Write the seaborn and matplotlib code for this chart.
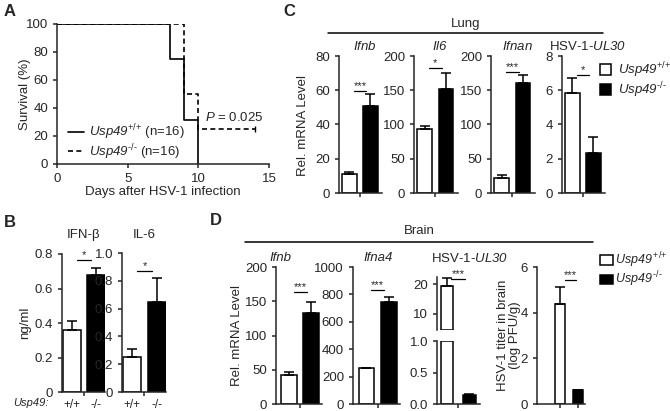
import numpy as np
import pandas as pd
import matplotlib
matplotlib.use('Agg')
import matplotlib.pyplot as plt
from matplotlib.lines import Line2D
from matplotlib.patches import Patch
import seaborn as sns

# ---- data ----
days_wt = [0, 8, 9, 10]
surv_wt = [100, 75, 31.25, 0]
days_ko = [0, 9, 10, 14]
surv_ko = [100, 50, 25, 25]

genotypes = ['+/+', '-/-']

b_ifnb, b_ifnb_err = [0.36, 0.68], [0.05, 0.04]
b_il6, b_il6_err = [0.25, 0.65], [0.06, 0.17]

c_ifnb, c_ifnb_err = [11, 51], [1.3, 7]
c_il6, c_il6_err = [93, 152], [5, 23]
c_ifnan, c_ifnan_err = [22, 161], [4, 11]
c_ul30, c_ul30_err = [5.85, 2.35], [0.85, 0.9]

d_ifnb, d_ifnb_err = [42, 133], [5, 16]
d_ifna4, d_ifna4_err = [263, 745], [0, 36]
d_ul30, d_ul30_err = [19.5, 0.15], [2.8, 0.01]
d_titer, d_titer_err = [4.38, 0.61], [0.74, 0]

W, H = 670, 411

sns.set_style('ticks')
plt.rcParams['font.family'] = ['Liberation Sans', 'DejaVu Sans']
plt.rcParams['mathtext.fontset'] = 'custom'
plt.rcParams['mathtext.rm'] = 'Liberation Sans'
plt.rcParams['mathtext.it'] = 'Liberation Sans:italic'
# \mathsf used for italic gene names so digits stay italic too
plt.rcParams['mathtext.sf'] = 'Liberation Sans:italic'
plt.rcParams['axes.linewidth'] = 1.1
plt.rcParams['xtick.major.size'] = 3
plt.rcParams['ytick.major.size'] = 3
plt.rcParams['xtick.major.width'] = 1.1
plt.rcParams['ytick.major.width'] = 1.1
plt.rcParams['xtick.labelsize'] = 9.5
plt.rcParams['ytick.labelsize'] = 9.5

fig = plt.figure(figsize=(W / 100, H / 100), dpi=100)


def add_ax(x0, y0, x1, y1):
    return fig.add_axes([x0 / W, 1 - y1 / H, (x1 - x0) / W, (y1 - y0) / H])


def ftext(x, y, s, **kw):
    fig.text(x / W, 1 - y / H, s, **kw)


def fline(x0, x1, y):
    fig.add_artist(Line2D([x0 / W, x1 / W], [1 - y / H, 1 - y / H], color='k', lw=1.1))


def bars(ax, vals, errs, width=0.68, xlim=(-0.5, 1.55), ticks='mid'):
    sns.barplot(x=genotypes, y=vals, hue=genotypes, palette=['white', 'black'],
                edgecolor='black', linewidth=1.1, width=width, errorbar=None,
                legend=False, ax=ax)
    ax.errorbar([0, 1], vals, yerr=[[0, 0], errs], fmt='none', ecolor='black',
                elinewidth=1.1, capsize=3.5, capthick=1.1)
    ax.set_xlim(*xlim)
    if ticks == 'mid':
        ax.set_xticks([0.5])
    else:
        ax.set_xticks([0, 1])
    ax.set_xticklabels([])
    ax.set_xlabel('')
    ax.set_ylabel('')
    sns.despine(ax=ax)


def sig(ax, y, s, x0=0.2, x1=0.8):
    ax.plot([x0, x1], [y, y], color='k', lw=0.9, clip_on=False)
    ax.text((x0 + x1) / 2, y, s, ha='center', va='bottom', fontsize=8, clip_on=False)


wt_lab = r'$\mathsf{Usp49}^{\text{+/+}}$'
ko_lab = r'$\mathsf{Usp49}^{\text{-/-}}$'

# ---- panel A ----
axA = add_ax(57, 24, 269, 164)
sns.lineplot(x=days_wt, y=surv_wt, drawstyle='steps-post', color='k', lw=1.2,
             estimator=None, ax=axA, label=wt_lab + ' (n=16)')
sns.lineplot(x=days_ko, y=surv_ko, drawstyle='steps-post', color='k', lw=1.2,
             dashes=(3, 2), estimator=None, ax=axA, label=ko_lab + ' (n=16)')
axA.plot(days_ko[-1:], surv_ko[-1:], marker='|', color='k', ms=4)
axA.set_xlim(0, 15)
axA.set_ylim(0, 100)
axA.set_xticks([0, 5, 10, 15])
axA.set_yticks([0, 20, 40, 60, 80, 100])
axA.set_xlabel('')
axA.set_ylabel('')
sns.despine(ax=axA)
axA.legend(loc='upper left', bbox_to_anchor=(0.02, (164 - 116) / 140), frameon=False,
           fontsize=9.5, handlelength=1.2, handletextpad=0.4, labelspacing=0.0,
           borderpad=0)
axA.text(10.5, 33, r'$P$ = 0.025', fontsize=9.5, va='center')
ftext(25, 94, 'Survival (%)', rotation=90, ha='center', va='center', fontsize=9.5)
ftext(163, 192, 'Days after HSV-1 infection', ha='center', va='center', fontsize=9.5)
ftext(4, 12, 'A', fontsize=12, weight='bold', va='center')

# ---- panel B ----
axB1 = add_ax(62, 254, 105, 392)
bars(axB1, b_ifnb, b_ifnb_err, width=0.72, xlim=(-0.42, 1.38))
axB1.set_ylim(0, 0.8)
axB1.set_yticks([0, 0.2, 0.4, 0.6, 0.8])
axB1.set_yticklabels(['0', '0.2', '0.4', '0.6', '0.8'])
sig(axB1, 0.765, '*')
axB2 = add_ax(122, 253, 166, 392)
bars(axB2, b_il6, b_il6_err, width=0.72, xlim=(-0.42, 1.38))
axB2.set_ylim(0, 1.0)
axB2.set_yticks([0, 0.2, 0.4, 0.6, 0.8, 1.0])
axB2.set_yticklabels(['0', '0.2', '0.4', '0.6', '0.8', '1.0'])
sig(axB2, 0.87, '*')
for ax in (axB1, axB2):
    ax.set_xticks([0, 1], minor=False)
    ax.set_xticklabels(genotypes, fontsize=8.5)
    ax.tick_params(axis='x', which='major', length=0, pad=5)
    ax.set_xticks([0.5], minor=True)
    ax.tick_params(axis='x', which='minor', length=3, width=1.1)
ftext(83, 235, 'IFN-β', ha='center', va='center', fontsize=9.5)
ftext(144, 235, 'IL-6', ha='center', va='center', fontsize=9.5)
ftext(25, 323, 'ng/ml', rotation=90, ha='center', va='center', fontsize=9.5)
ftext(13, 403, 'Usp49:', fontsize=8, va='center', style='italic')
ftext(4, 222, 'B', fontsize=12, weight='bold', va='center')

# ---- panel C ----
c_boxes = [(339, 382), (414, 458), (491, 535), (562, 605)]
c_data = [(c_ifnb, c_ifnb_err, 80, [0, 20, 40, 60, 80], 59.6, '***'),
          (c_il6, c_il6_err, 200, [0, 50, 100, 150, 200], 183, '*'),
          (c_ifnan, c_ifnan_err, 200, [0, 50, 100, 150, 200], 177, '***'),
          (c_ul30, c_ul30_err, 8, [0, 2, 4, 6, 8], 6.9, '*')]
c_titles = [r'$\mathsf{Ifnb}$', r'$\mathsf{Il6}$', r'$\mathsf{Ifnan}$',
            r'HSV-1-$\mathsf{UL30}$']
for (x0, x1), (v, e, top, yt, sy, ss), t in zip(c_boxes, c_data, c_titles):
    ax = add_ax(x0, 56, x1, 193)
    bars(ax, v, e)
    ax.set_ylim(0, top)
    ax.set_yticks(yt)
    sig(ax, sy, ss)
    ftext((x0 + x1) / 2 + 4, 46, t, ha='center', va='center', fontsize=9.5)
ftext(303, 125, 'Rel. mRNA Level', rotation=90, ha='center', va='center', fontsize=9.5)
ftext(466, 24, 'Lung', ha='center', va='center', fontsize=9.5)
fline(328, 603, 33)
ftext(283, 12, 'C', fontsize=12, weight='bold', va='center')
fig.legend(handles=[Patch(facecolor='white', edgecolor='k', lw=1.1),
                    Patch(facecolor='black', edgecolor='k', lw=1.1)],
           labels=[wt_lab, ko_lab],
           loc='upper left', bbox_to_anchor=(593 / W, 1 - 54 / H), frameon=False,
           fontsize=9.5, handlelength=0.9, handleheight=0.9, handletextpad=0.5,
           labelspacing=0.0, borderpad=0)

# ---- panel D ----
axD1 = add_ax(276, 267, 322, 404)
bars(axD1, d_ifnb, d_ifnb_err, width=0.7, xlim=(-0.6, 1.5))
axD1.set_ylim(0, 200)
axD1.set_yticks([0, 50, 100, 150, 200])
sig(axD1, 163, '***')

axD2 = add_ax(353, 267, 400, 404)
bars(axD2, d_ifna4, d_ifna4_err, width=0.7, xlim=(-0.6, 1.5))
axD2.set_ylim(0, 1000)
axD2.set_yticks([0, 200, 400, 600, 800, 1000])
sig(axD2, 832, '***')

# broken axis for UL30
axD3t = add_ax(437, 277, 480, 330)
axD3b = add_ax(437, 341, 480, 404)
for ax, lim, yt in ((axD3t, (4.5, 22.5), [10, 20]), (axD3b, (0, 1.0), [0, 0.5, 1.0])):
    bars(ax, d_ul30, d_ul30_err, width=0.55, xlim=(-0.44, 1.47))
    ax.set_ylim(*lim)
    ax.set_yticks(yt)
    for p in ax.patches:
        y0, h = p.get_y(), p.get_height()
        lo, hi = max(y0, lim[0]), min(y0 + h, lim[1])
        if hi <= lo:
            p.set_visible(False)
            continue
        p.set_y(lo)
        p.set_height(hi - lo)
axD3b.set_yticklabels(['0.0', '0.5', '1.0'])
axD3t.spines['bottom'].set_visible(False)
axD3t.tick_params(axis='x', which='both', bottom=False)
sig(axD3t, 21.7, '***')

axD4 = add_ax(537, 267, 585, 404)
bars(axD4, d_titer, d_titer_err, width=0.55, xlim=(-1.28, 1.39), ticks='bars')
axD4.set_ylim(0, 6)
axD4.set_yticks([0, 2, 4, 6])
sig(axD4, 5.43, '***', 0.3, 0.9)
ftext(280, 258, 'Ifnb', ha='center', va='center', fontsize=9.5, style='italic')
ftext(378, 258, 'Ifna4', ha='center', va='center', fontsize=9.5, style='italic')
ftext(470, 258, r'HSV-1-$\mathsf{UL30}$', ha='center', va='center', fontsize=9.5)
ftext(237, 335, 'Rel. mRNA Level', rotation=90, ha='center', va='center', fontsize=9.5)
ftext(509, 335, 'HSV-1 titer in brain\n(log PFU/g)', rotation=90, ha='center',
      va='center', fontsize=9.5, linespacing=1.1)
ftext(419, 231, 'Brain', ha='center', va='center', fontsize=9.5)
fline(245, 593, 242)
ftext(210, 220, 'D', fontsize=12, weight='bold', va='center')
fig.legend(handles=[Patch(facecolor='white', edgecolor='k', lw=1.1),
                    Patch(facecolor='black', edgecolor='k', lw=1.1)],
           labels=[r'$\mathsf{Usp49}\,^{\text{+/+}}$', r'$\mathsf{Usp49}\,^{\text{-/-}}$'],
           loc='upper left', bbox_to_anchor=(594 / W, 1 - 244 / H), frameon=False,
           fontsize=9, handlelength=1.0, handleheight=0.8, handletextpad=0.2,
           labelspacing=0.0, borderpad=0)

fig.savefig('out.png', dpi=100)
